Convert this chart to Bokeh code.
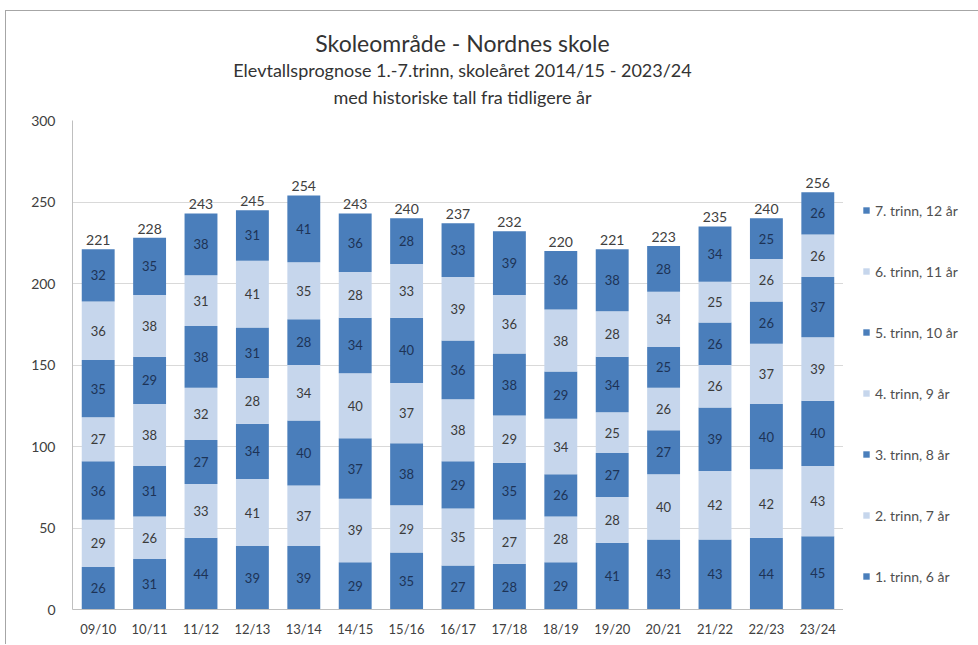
from bokeh.plotting import figure
from bokeh.layouts import row, column
from bokeh.models import (ColumnDataSource, Range1d, FactorRange, Legend, LegendItem,
                          Label, FixedTicker)
from bokeh.embed import file_html
from bokeh.resources import INLINE
from bokeh.core.properties import value

# ---------------- data ----------------
years = ["09/10", "10/11", "11/12", "12/13", "13/14", "14/15", "15/16", "16/17",
         "17/18", "18/19", "19/20", "20/21", "21/22", "22/23", "23/24"]
trinn1 = [26, 31, 44, 39, 39, 29, 35, 27, 28, 29, 41, 43, 43, 44, 45]
trinn2 = [29, 26, 33, 41, 37, 39, 29, 35, 27, 28, 28, 40, 42, 42, 43]
trinn3 = [36, 31, 27, 34, 40, 37, 38, 29, 35, 26, 27, 27, 39, 40, 40]
trinn4 = [27, 38, 32, 28, 34, 40, 37, 38, 29, 34, 25, 26, 26, 37, 39]
trinn5 = [35, 29, 38, 31, 28, 34, 40, 36, 38, 29, 34, 25, 26, 26, 37]
trinn6 = [36, 38, 31, 41, 35, 28, 33, 39, 36, 38, 28, 34, 25, 26, 26]
trinn7 = [32, 35, 38, 31, 41, 36, 28, 33, 39, 36, 38, 28, 34, 25, 26]
series_names = ["1. trinn, 6 år", "2. trinn, 7 år", "3. trinn, 8 år", "4. trinn, 9 år",
                "5. trinn, 10 år", "6. trinn, 11 år", "7. trinn, 12 år"]
y_ticks = [0, 50, 100, 150, 200, 250, 300]
title_lines = ["Skoleområde - Nordnes skole",
               "Elevtallsprognose 1.-7.trinn, skoleåret 2014/15 - 2023/24",
               "med historiske tall fra tidligere år"]

# ---------------- style ----------------
FONT = "Lato"
DARK = "#4A7EBB"
LIGHT = "#C6D6EC"
DARK_TXT = "#1D3356"
LIGHT_TXT = "#3A3A3A"
BORDER = "1px solid #A6A6A6"
series = [trinn1, trinn2, trinn3, trinn4, trinn5, trinn6, trinn7]
colors = [DARK if k % 2 == 0 else LIGHT for k in range(7)]
keys = ["t%d" % (k + 1) for k in range(7)]

data = {"year": years}
for k, s in enumerate(series):
    data[keys[k]] = s
src = ColumnDataSource(data)

# segment labels
lx, ly, lt, lc = [], [], [], []
base = [0] * len(years)
for k, s in enumerate(series):
    for i, v in enumerate(s):
        lx.append(years[i])
        ly.append(base[i] + v / 2)
        lt.append(str(v))
        lc.append(DARK_TXT if k % 2 == 0 else LIGHT_TXT)
        base[i] += v
lab_src = ColumnDataSource(dict(x=lx, y=ly, text=lt, color=lc))
tot_src = ColumnDataSource(dict(x=years, y=base, text=[str(t) for t in base]))


def blank(fig):
    fig.title.visible = False
    fig.grid.visible = False
    fig.outline_line_color = None
    fig.background_fill_color = "white"
    fig.border_fill_color = "white"


# ---------------- title strip ----------------
TH = 100
tfig = figure(width=972, height=TH, x_range=Range1d(0, 1), y_range=Range1d(0, 1),
              output_backend="svg", toolbar_location=None, min_border=0,
              x_axis_location=None, y_axis_location=None)
blank(tfig)
for txt, sz, yy in zip(title_lines, ["23px", "18px", "18px"], [69, 42, 15]):
    tfig.add_layout(Label(x=456, y=yy, x_units="screen", y_units="screen", text=txt,
                          text_font=FONT, text_font_size=sz, text_color="#333333",
                          text_align="center", text_baseline="middle"))

# ---------------- main chart ----------------
PH = 533
p = figure(width=837, height=PH, x_range=FactorRange(*years, range_padding=0),
           y_range=Range1d(0, 300), output_backend="svg", toolbar_location=None,
           min_border_left=66, min_border_right=0, min_border_top=9,
           min_border_bottom=35)
blank(p)

rs = p.vbar_stack(keys, x="year", width=0.64, color=colors, line_color=None, source=src)

p.text(x="x", y="y", text="text", source=lab_src, text_color="color",
       text_font=value(FONT), text_font_size="13px", text_align="center",
       text_baseline="middle")
p.text(x="x", y="y", text="text", source=tot_src, text_color="#404040",
       text_font=value(FONT), text_font_size="14px", text_align="center",
       text_baseline="bottom", y_offset=-4)

p.yaxis.ticker = FixedTicker(ticks=y_ticks)
p.ygrid.ticker = FixedTicker(ticks=y_ticks)
p.ygrid.visible = True
p.ygrid.grid_line_color = "#D9D9D9"
for ax in (p.xaxis, p.yaxis):
    ax.axis_line_color = "#BFBFBF"
    ax.major_tick_line_color = None
    ax.minor_tick_line_color = None
    ax.major_tick_out = 0
    ax.major_tick_in = 0
    ax.major_label_text_font = FONT
    ax.major_label_text_color = "#404040"
p.xaxis.major_label_text_font_size = "13px"
p.yaxis.major_label_text_font_size = "14px"
p.yaxis.major_label_standoff = 17
p.xaxis.major_label_standoff = 11

# ---------------- legend strip ----------------
leg = figure(width=134, height=PH, x_range=Range1d(0, 1), y_range=Range1d(0, 1),
             output_backend="svg", toolbar_location=None, min_border=0,
             x_axis_location=None, y_axis_location=None)
blank(leg)
# zero-size helper glyphs (outside the visible range) that only give the legend its swatches
swatches = [leg.vbar(x=[-1], top=[0], width=0, fill_color=colors[k], line_color=None)
            for k in range(7)]
items = [LegendItem(label=series_names[k], renderers=[swatches[k]])
         for k in reversed(range(7))]
legend = Legend(items=items, location=(19, 23), orientation="vertical",
                glyph_width=8, glyph_height=8, label_height=20, spacing=41,
                padding=0, margin=0, border_line_color=None, background_fill_alpha=0,
                label_text_font=FONT, label_text_font_size="14px",
                label_text_color="#505050", label_standoff=5)
leg.add_layout(legend, "center")

layout = column(tfig, row(p, leg))
layout.margin = (10, 0, 0, 5)
layout.styles = {"border-top": BORDER, "border-left": BORDER}
open("out.html", "w").write(file_html(layout, INLINE))
